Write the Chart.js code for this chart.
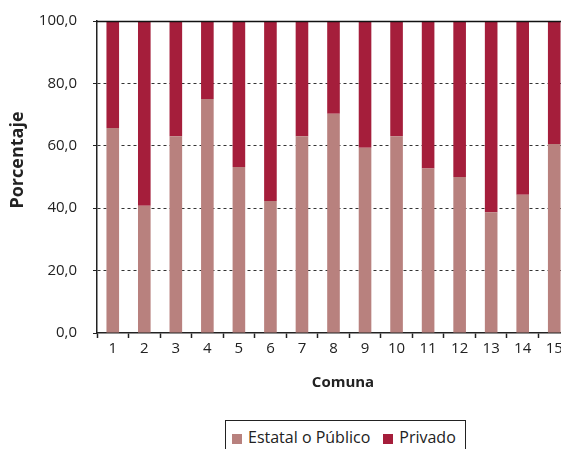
<!DOCTYPE html>
<html>
<head>
<meta charset="utf-8">
<script src="https://cdn.jsdelivr.net/npm/chart.js@4/dist/chart.umd.min.js"></script>
<style>
  html, body { margin: 0; padding: 0; background: #fff; overflow: hidden; }
  #wrap { position: relative; width: 570px; height: 460px; }
  #legend {
    position: absolute; left: 225px; top: 420px;
    border: 1px solid #222; background: #fff;
    padding: 6px 9px 12px 6px;
    font: 16px 'Open Sans', sans-serif; line-height: 20px; color: #222;
    white-space: nowrap;
  }
  #legend .item { display: inline-block; margin-right: 13px; }
  #legend .item:last-child { margin-right: 0; }
  #legend .sw { display: inline-block; width: 10px; height: 10px; margin-right: 6px; vertical-align: -1px; }
</style>
</head>
<body>
<div id="wrap">
  <canvas id="chart" width="570" height="460"></canvas>
  <div id="legend"></div>
</div>
<script>
// Datos por comuna (porcentaje)
const comunas = ['1', '2', '3', '4', '5', '6', '7', '8', '9', '10', '11', '12', '13', '14', '15'];
const estatal = [65.7, 40.8, 63.1, 75.0, 53.2, 42.3, 63.1, 70.3, 59.4, 63.1, 52.7, 50.0, 38.7, 44.3, 60.6];
const privado = [34.3, 59.2, 36.9, 25.0, 46.8, 57.7, 36.9, 29.7, 40.6, 36.9, 47.3, 50.0, 61.3, 55.7, 39.4];
const yTicks = [0, 20, 40, 60, 80, 100];

const FONT = "'Open Sans', sans-serif";
const TEXT = '#222';

// Axis titles and solid top line at 100
const extras = {
  id: 'extras',
  afterDraw(chart) {
    const ctx = chart.ctx;
    const y = chart.scales.y;
    const area = chart.chartArea;
    const top = Math.round(y.getPixelForValue(100)) + 0.5;
    ctx.save();
    ctx.strokeStyle = '#111';
    ctx.lineWidth = 1.6;
    ctx.beginPath();
    ctx.moveTo(area.left, top);
    ctx.lineTo(area.right, top);
    ctx.stroke();

    ctx.fillStyle = TEXT;
    ctx.textAlign = 'center';
    ctx.textBaseline = 'middle';
    ctx.font = "bold 15px 'Open Sans', sans-serif";
    ctx.fillText('Comuna', 343, 383);
    ctx.translate(18, 160);
    ctx.rotate(-Math.PI / 2);
    ctx.font = "bold 18px 'Open Sans', sans-serif";
    ctx.fillText('Porcentaje', 0, 0);
    ctx.restore();
  }
};

const chart = new Chart(document.getElementById('chart'), {
  type: 'bar',
  data: {
    labels: comunas,
    datasets: [
      { label: 'Estatal o Público', data: estatal, backgroundColor: '#b8817e', borderWidth: 0 },
      { label: 'Privado', data: privado, backgroundColor: '#a51e3b', borderWidth: 0 }
    ]
  },
  options: {
    responsive: false,
    devicePixelRatio: 1,
    animation: false,
    layout: { padding: { left: 4, right: 0, top: 21, bottom: 42 } },
    datasets: { bar: { categoryPercentage: 0.8, barPercentage: 0.5 } },
    plugins: {
      tooltip: { enabled: false },
      legend: { display: false }
    },
    scales: {
      x: {
        stacked: true,
        afterFit(scale) { scale.height = 85; scale.paddingLeft = 0; scale.paddingRight = 0; },
        grid: { drawOnChartArea: false, drawTicks: true, tickLength: 5, tickColor: '#222', tickWidth: 1.5, offset: true },
        border: { display: true, color: '#222', width: 1.5 },
        ticks: { color: TEXT, font: { family: FONT, size: 15 }, padding: 2, maxRotation: 0 }
      },
      y: {
        stacked: true,
        min: 0,
        max: 100,
        afterFit(scale) { scale.width = 93; scale.paddingTop = 0; scale.paddingBottom = 0; },
        afterBuildTicks(scale) { scale.ticks = yTicks.map(v => ({ value: v })); },
        grid: {
          color: ctx => (ctx.tick && (ctx.tick.value === 0 || ctx.tick.value === 100)) ? 'rgba(0,0,0,0)' : '#333',
          lineWidth: 1,
          drawTicks: true,
          tickLength: 4,
          tickColor: '#222'
        },
        border: { display: true, color: '#222', width: 1.5, dash: [3, 3] },
        ticks: {
          color: TEXT,
          font: { family: FONT, size: 15 },
          padding: 16,
          callback: v => v.toFixed(1).replace('.', ',')
        }
      }
    }
  },
  plugins: [extras]
});

// HTML legend built from the datasets
const legendEl = document.getElementById('legend');
for (const ds of chart.data.datasets) {
  const item = document.createElement('span');
  item.className = 'item';
  item.innerHTML = `<span class="sw" style="background:${ds.backgroundColor}"></span>${ds.label}`;
  legendEl.appendChild(item);
}
</script>
</body>
</html>
